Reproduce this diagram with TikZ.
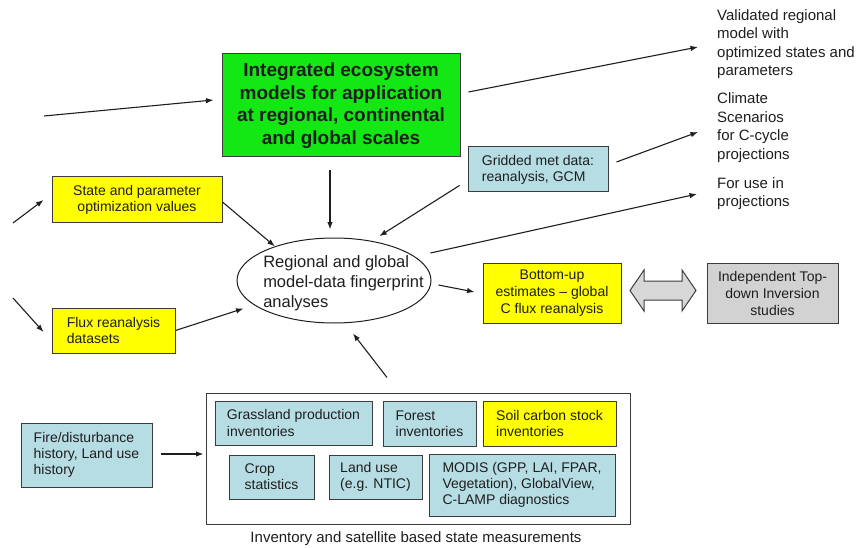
\documentclass[tikz,border=0pt]{standalone}
\usepackage{fontspec}
\setmainfont{Liberation Sans}
\usetikzlibrary{arrows.meta,calc,shapes.geometric}
\definecolor{txt}{RGB}{30,30,30}
\definecolor{edge}{RGB}{60,60,60}
\definecolor{boxblue}{RGB}{183,221,228}
\definecolor{boxyellow}{RGB}{255,255,0}
\definecolor{boxgreen}{RGB}{20,232,20}
\definecolor{boxgray}{RGB}{210,210,210}
\definecolor{arrgray}{RGB}{215,215,215}
\begin{document}
\begin{tikzpicture}[x=1pt,y=-1pt,
  every node/.style={font=\fontsize{14}{16.2}\selectfont, text=txt},
  box/.style={draw=edge, line width=1pt, inner sep=0pt},
  blue/.style={box, fill=boxblue, align=left},
  yel/.style={box, fill=boxyellow},
  side/.style={font=\fontsize{15}{18.5}\selectfont, align=left, anchor=west, inner sep=0pt},
  arr/.style={-{Latex[length=7.5pt,width=5.5pt]}, line width=1.1pt, draw=txt}]
\useasboundingbox (0,0) rectangle (859,548);

% central model box
\node[box, fill=boxgreen, minimum width=238pt, minimum height=103pt, align=center,
      font=\fontsize{19}{22.5}\selectfont\bfseries] (green) at (341,105.5)
  {Integrated ecosystem\\models for application\\at regional, continental\\and global scales};

% left inputs
\node[yel, minimum width=170pt, minimum height=45pt, align=center] (state) at (137,199.5)
  {State and parameter\\optimization values};
\node[yel, minimum width=123pt, minimum height=45pt, align=left] (flux) at (113.5,330.5)
  {Flux reanalysis\\datasets};

% met data
\node[blue, minimum width=140pt, minimum height=45pt] (grid) at (538,169.5)
  {Gridded met data:\\reanalysis, GCM};

% fingerprint analyses
\node[ellipse, draw=txt, line width=1pt, minimum width=194pt, minimum height=85pt, inner sep=0pt] (ell) at (334,280.5) {};
\node[font=\fontsize{16.5}{20}\selectfont, align=left, inner sep=0pt] (elltext) at (343.5,283)
  {Regional and global\\model-data fingerprint\\analyses};

% outputs
\node[yel, minimum width=138pt, minimum height=60pt, align=center, font=\fontsize{14}{17}\selectfont] (bu) at (552,293)
  {Bottom-up\\estimates -- global\\C flux reanalysis};
\node[box, fill=boxgray, minimum width=131pt, minimum height=60pt, align=center, font=\fontsize{14}{17}\selectfont] (gray) at (772.5,293)
  {Independent Top-\\down Inversion\\studies};

\node[side] (val) at (717,44) {Validated regional\\model with\\optimized states and\\parameters};
\node[side] (clim) at (717,127.5) {Climate\\Scenarios\\for C-cycle\\projections};
\node[side] (foruse) at (717,193.5) {For use in\\projections};

% measurements
\node[blue, minimum width=131pt, minimum height=64pt] (fire) at (86.5,455)
  {Fire/disturbance\\history, Land use\\history};
\node[draw=edge, line width=1pt, minimum width=424pt, minimum height=131pt, inner sep=0pt] (cont) at (418,458.5) {};
\node[blue, minimum width=157pt, minimum height=44pt] (grass) at (293.5,423)
  {Grassland production\\inventories};
\node[blue, minimum width=93pt, minimum height=45pt] (forest) at (429.5,423.5)
  {Forest\\inventories};
\node[yel, minimum width=133pt, minimum height=45pt, align=left] (soil) at (549.5,423.5)
  {Soil carbon stock\\inventories};
\node[blue, minimum width=85pt, minimum height=44pt] (crop) at (271.5,477)
  {Crop\\statistics};
\node[blue, minimum width=93pt, minimum height=44pt] (land) at (375.5,477)
  {Land use\\(e.g. NTIC)};
\node[blue, minimum width=186pt, minimum height=62pt] (modis) at (522,485)
  {MODIS (GPP, LAI, FPAR,\\Vegetation), GlobalView,\\C-LAMP diagnostics};
\node[font=\fontsize{15}{18}\selectfont, inner sep=0pt] (cap) at (416,539)
  {Inventory and satellite based state measurements};

% free ends of the incoming arrows
\coordinate (inG) at (44,116);
\coordinate (inS) at (13,223);
\coordinate (inF) at (13,298);

% connectors
\draw[arr] (inG) -- ($(green.west)+(-8,-5.5)$);
\draw[arr] (inS) -- ($(state.west)+(-8,0.5)$);
\draw[arr] (inF) -- ($(flux.west)+(-8,1.5)$);
\draw[arr] ($(green.east)+(8,-13.5)$) -- ($(val.west)+(-19,3)$);
\draw[arr] ($(grid.east)+(8,-7.5)$) -- ($(clim.west)+(-19,4.5)$);
\draw[arr] ($(ell.east)+(-1,-27.5)$) -- ($(foruse.west)+(-20,0.5)$);
\draw[arr] ($(green.south)+(-11,13)$) -- ($(ell.north)+(-4,-8)$);
\draw[arr] ($(state.east)+(0,2.5)$) -- ($(ell.150)+(0,0)$);
\draw[arr] ($(grid.south west)+(-8,-7)$) -- ($(ell.45)+(6,-5)$);
\draw[arr] (flux.east) -- ($(flux.east)+(68,-22)$);
\draw[arr] ($(cont.north)+(-31,-15)$) -- ($(ell.south)+(19,10)$);
\draw[arr] ($(ell.east)+(7,4.5)$) -- ($(bu.west)+(-8,-1)$);
\draw[arr] ($(fire.east)+(8,-1)$) -- ($(cont.west)+(-2,-4.5)$);

% two-way block arrow between bottom-up and top-down estimates
\coordinate (mid) at ($(bu.east)!0.5!(gray.west)+(-1,-2.5)$);
\draw[draw=edge, line width=1pt, fill=arrgray, shift={(mid)}]
  (-33,0) -- (-19,-20.5) -- (-19,-9.5) -- (19,-9.5) -- (19,-20.5) -- (33,0)
  -- (19,20.5) -- (19,9.5) -- (-19,9.5) -- (-19,20.5) -- cycle;
\end{tikzpicture}
\end{document}
